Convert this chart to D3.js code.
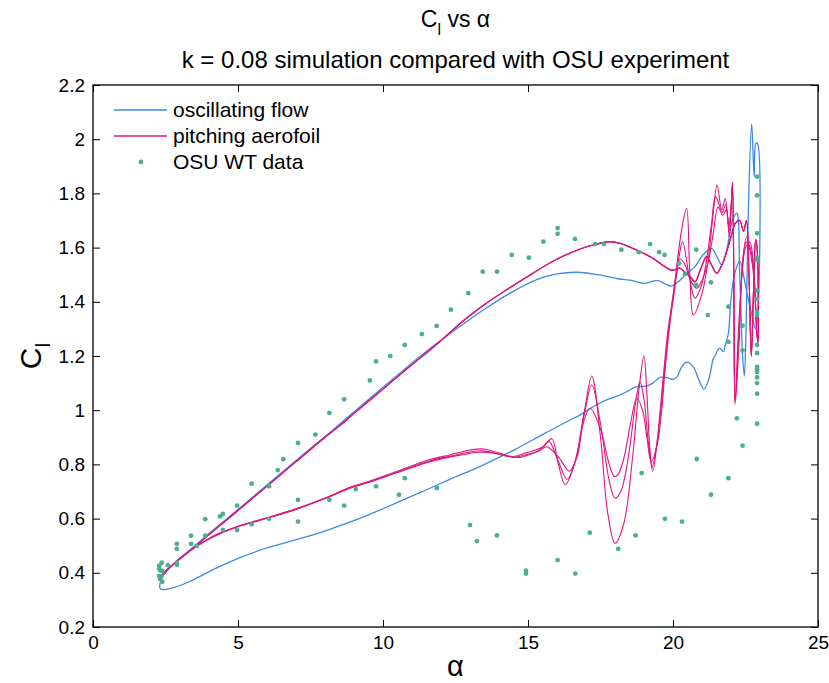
<!DOCTYPE html>
<html><head><meta charset="utf-8">
<script src="https://cdn.jsdelivr.net/npm/d3@7/dist/d3.min.js"></script>
<style>
body{margin:0;background:#fff}
svg{display:block}
text{font-family:"Liberation Sans",Arial,Helvetica,sans-serif;fill:#000}
</style>
</head><body>
<svg id="chart" width="829" height="683"></svg>
<script>
// ---------- data ----------
const xTicks = [0, 5, 10, 15, 20, 25];
const yTicks = [0.2, 0.4, 0.6, 0.8, 1, 1.2, 1.4, 1.6, 1.8, 2, 2.2];
const seriesNames = ["oscillating flow", "pitching aerofoil", "OSU WT data"];

// oscillating flow: [alpha, Cl] traced along the loop
const oscFlow = [
[2.3,0.352],[2.36,0.378],[2.5,0.4],[2.9,0.445],[3.5,0.499],[4,0.545],[5,0.634],[6,0.724],[7,0.814],[8,0.903],[8.52,0.95],
[10,1.085],[11,1.174],[11.62,1.228],[12.77,1.318],[13.46,1.37],[14.38,1.432],[15.3,1.482],[16,1.503],[16.7,1.509],
[17.4,1.5],[18.06,1.486],[18.52,1.48],[19.03,1.468],[19.3,1.476],[19.49,1.478],[19.75,1.465],[19.95,1.458],[20.2,1.475],
[20.36,1.492],[20.6,1.515],[20.76,1.53],[21.05,1.575],[21.33,1.597],[21.5,1.57],[21.68,1.536],[21.85,1.59],[22.05,1.7],
[22.2,1.727],[22.3,1.5],[22.4,1.2],[22.46,1.126],[22.52,1.3],[22.6,1.75],[22.71,2.056],[22.76,1.95],[22.8,1.862],
[22.86,1.985],[22.91,1.985],[22.92,1.35],[22.85,1.3],[22.7,1.36],[22.5,1.46],[22.3,1.55],[22.12,1.5],[21.99,1.4],
[21.91,1.284],[21.8,1.24],[21.74,1.216],[21.62,1.228],[21.56,1.225],[21.45,1.2],[21.39,1.191],[21.25,1.12],
[21.07,1.078],[20.9,1.11],[20.7,1.16],[20.47,1.177],[20.3,1.16],[20.15,1.125],[20.01,1.114],[19.8,1.12],[19.55,1.121],
[19.3,1.1],[19.09,1.089],[18.86,1.087],[18.69,1.085],[18.4,1.068],[18.17,1.056],[17.71,1.038],[17.2,1.01],[16.79,0.982],
[16.45,0.964],[15.5,0.91],[14.5,0.852],[13.34,0.792],[13,0.776],[12.3,0.745],[11.62,0.712],[10.5,0.66],[9.5,0.614],
[8.52,0.574],[7.94,0.552],[7.4,0.534],[6.79,0.516],[6.2,0.498],[5.64,0.479],[5.07,0.456],[4.49,0.429],[3.9,0.399],
[3.34,0.368],[2.77,0.345],[2.45,0.338],[2.32,0.341],[2.3,0.352]
];

// pitching aerofoil: shared upstroke, then three downstroke cycles
const pitchUp = [
[2.37,0.392],[2.6,0.415],[2.9,0.443],[3.5,0.495],[4,0.541],[5,0.63],[6,0.72],[7,0.81],[8,0.9],[8.52,0.944],[9,0.988],
[10,1.078],[11,1.168],[11.62,1.222],[12,1.257],[12.77,1.33],[13.5,1.39],[14.3,1.447],[15.07,1.499],[15.7,1.54],
[16.22,1.569],[16.8,1.595],[17.37,1.613],[17.8,1.622],[18.2,1.615],[18.52,1.601],[19,1.578],[19.32,1.56],[19.55,1.542],
[19.95,1.517],[20.1,1.52],[20.24,1.524],[20.45,1.505],[20.59,1.493],[20.76,1.474],[20.95,1.52],[21.16,1.567],[21.33,1.536],
[21.51,1.505],[21.7,1.54],[21.85,1.585],[22,1.64],[22.15,1.69],[22.3,1.7],[22.43,1.66],[22.53,1.7],[22.62,1.5],[22.7,1.2],
[22.78,1.45],[22.85,1.63],[22.9,1.6],[22.93,1.25]
];
const pitchDown1 = [
[22.93,1.25],[22.88,1.32],[22.78,1.52],[22.65,1.62],[22.5,1.6],[22.38,1.5],[22.26,1.3],[22.14,1.03],[22.1,1.4],
[22.05,1.843],[22,1.75],[21.92,1.68],[21.8,1.78],[21.68,1.74],[21.52,1.831],[21.38,1.72],[21.22,1.56],[21,1.43],
[20.7,1.351],[20.58,1.5],[20.47,1.745],[20.32,1.68],[20.15,1.55],[20,1.42],[19.82,1.29],[19.68,1.14],[19.55,0.99],
[19.43,0.86],[19.3,0.775],[19.2,0.86],[19.1,1.06],[19,1.2],[18.85,1.1],[18.6,0.82],[18.3,0.58],[18,0.509],[17.75,0.62],
[17.5,0.9],[17.2,1.126],[16.95,1],[16.6,0.8],[16.28,0.725],[16.05,0.8],[15.82,0.895],[15.55,0.868],[15.3,0.855],
[14.9,0.842],[14.49,0.829],[14,0.842],[13.45,0.857],[13,0.853],[12.3,0.835],[11.62,0.818],[10.5,0.775],[9.5,0.737],
[8.86,0.716],[8,0.676],[7,0.636],[6,0.603],[5.5,0.588],[5,0.572],[4.5,0.552],[4,0.527],[3.6,0.5],[3.3,0.478],
[2.9,0.445],[2.6,0.416],[2.37,0.392]
];
const pitchDown2 = [
[22.93,1.25],[22.88,1.3],[22.79,1.5],[22.66,1.6],[22.52,1.62],[22.39,1.52],[22.27,1.28],[22.14,1.03],[22.1,1.45],
[22.05,1.835],[22,1.74],[21.93,1.66],[21.82,1.76],[21.7,1.73],[21.47,1.788],[21.32,1.68],[21.15,1.55],[20.98,1.46],
[20.76,1.413],[20.55,1.5],[20.33,1.622],[20.2,1.56],[20.05,1.44],[19.85,1.29],[19.7,1.14],[19.57,0.99],[19.42,0.86],
[19.28,0.79],[19.15,0.88],[19,1.04],[18.86,1.105],[18.7,1.02],[18.45,0.82],[18.2,0.7],[18,0.675],[17.8,0.74],[17.5,0.95],
[17.2,1.093],[16.95,0.99],[16.65,0.82],[16.35,0.745],[16.05,0.81],[15.72,0.885],[15.5,0.862],[15.3,0.848],[14.9,0.835],
[14.49,0.826],[14,0.838],[13.45,0.85],[13,0.846],[12.3,0.83],[11.62,0.813],[10.5,0.772],[9.5,0.735],[8.86,0.714],
[8,0.675],[7,0.635],[6,0.602],[5.5,0.587],[5,0.571],[4.5,0.551],[4,0.526],[3.6,0.5],[3.3,0.478],[2.9,0.445],
[2.6,0.416],[2.37,0.392]
];
const pitchDown3 = [
[22.93,1.25],[22.89,1.28],[22.8,1.48],[22.67,1.58],[22.54,1.64],[22.4,1.55],[22.28,1.25],[22.14,1.02],[22.1,1.5],
[22.05,1.83],[22,1.73],[21.94,1.64],[21.84,1.74],[21.72,1.72],[21.55,1.75],[21.4,1.66],[21.2,1.54],[21,1.48],
[20.82,1.45],[20.6,1.48],[20.4,1.54],[20.24,1.557],[20.1,1.49],[19.95,1.38],[19.85,1.28],[19.72,1.14],[19.6,0.99],
[19.45,0.87],[19.25,0.81],[19.1,0.9],[18.95,1],[18.75,1.044],[18.55,0.96],[18.3,0.82],[18.1,0.762],[17.98,0.755],
[17.8,0.8],[17.5,0.93],[17.14,1.007],[16.9,0.95],[16.7,0.83],[16.42,0.775],[16.1,0.82],[15.65,0.865],[15.4,0.85],
[15.1,0.838],[14.7,0.826],[14.3,0.83],[13.8,0.842],[13.3,0.845],[12.7,0.835],[11.62,0.81],[10.5,0.77],[9.5,0.733],
[8.86,0.712],[8,0.674],[7,0.634],[6,0.601],[5.5,0.586],[5,0.57],[4.5,0.55],[4,0.525],[3.6,0.5],[3.3,0.478],[2.9,0.445],
[2.6,0.416],[2.37,0.392]
];

// OSU wind-tunnel data: [alpha, Cl]
const osuData = [
[2.28,0.426],[2.37,0.437],[2.28,0.415],[2.33,0.408],[2.39,0.407],[2.28,0.388],[2.34,0.385],[2.31,0.377],[2.39,0.367],
[2.58,0.428],[2.89,0.437],[2.89,0.429],[2.89,0.507],[2.89,0.488],[3.38,0.537],[3.38,0.507],[3.58,0.499],[3.87,0.598],
[3.87,0.537],[4.38,0.608],[4.48,0.617],[4.48,0.558],[4.97,0.648],[4.97,0.558],[5.47,0.729],[5.47,0.579],[6.07,0.719],
[6.07,0.599],[6.37,0.779],[6.56,0.819],[7.07,0.879],[7.07,0.669],[7.07,0.589],[7.67,0.91],[8.15,0.99],[8.15,0.669],
[8.66,1.04],[8.66,0.648],[9.06,0.709],[9.55,1.11],[9.76,1.18],[9.76,0.719],[10.25,1.2],[10.55,0.688],[10.75,1.241],
[10.75,0.749],[11.34,1.281],[11.85,1.311],[11.86,0.713],[12.34,1.371],[12.94,1.432],[13,0.576],[13.24,0.517],
[13.44,1.511],[13.93,1.511],[13.93,0.538],[14.44,1.573],[14.93,0.408],[14.93,0.397],[15.03,1.563],[15.53,1.622],
[16.02,1.672],[16.02,1.651],[16.02,0.447],[16.62,1.632],[16.63,0.397],[17.13,0.548],[17.32,1.613],[17.62,1.613],
[18.11,0.488],[18.22,1.592],[18.71,0.538],[18.82,1.583],[18.92,0.768],[19.21,1.613],[19.52,1.583],[19.71,1.573],
[19.72,0.599],[20.21,1.542],[20.31,0.589],[20.41,1.503],[20.8,1.592],[20.8,1.462],[20.82,0.82],[21.2,1.351],[21.31,1.472],
[21.31,0.688],[21.91,1.382],[21.91,1.252],[21.91,0.749],[22.2,0.97],[22.4,1.312],[22.4,1.221],[22.4,0.869],
[22.9,1.862],[22.9,1.793],[22.9,1.653],[22.9,1.563],[22.9,1.553],[22.9,1.442],[22.9,1.411],[22.9,1.362],[22.9,1.351],
[22.9,1.241],[22.9,1.211],[22.9,1.16],[22.9,1.151],[22.9,1.141],[22.9,1.121],[22.9,1.1],[22.9,1.061],[22.9,0.95]
];

// ---------- drawing ----------
const mL = 93, mR = 818, mT = 85, mB = 627;
const colBlue = "#3a8ae8", colMag = "#e0157c", colGreen = "#4daf8d";

const svg = d3.select("#chart");
const x = d3.scaleLinear().domain([0, 25]).range([mL, mR]);
const y = d3.scaleLinear().domain([0.2, 2.2]).range([mB, mT]);

const line = d3.line().x(d => x(d[0])).y(d => y(d[1])).curve(d3.curveCatmullRom.alpha(0.5));

const plot = svg.append("g");
plot.append("path").datum(oscFlow).attr("d", line)
  .attr("fill", "none").attr("stroke", colBlue).attr("stroke-width", 1.3);

[pitchDown1, pitchDown2, pitchDown3].forEach(down => {
  plot.append("path").datum(pitchUp.concat(down.slice(1))).attr("d", line)
    .attr("fill", "none").attr("stroke", colMag).attr("stroke-width", 1.1);
});

plot.selectAll("circle.osu").data(osuData).join("circle")
  .attr("class", "osu").attr("cx", d => x(d[0])).attr("cy", d => y(d[1]))
  .attr("r", 2.4).attr("fill", colGreen);

// axes (MATLAB-style inward ticks, full box)
const tickLen = 7;
const fmt = d => String(d);
const gx = svg.append("g").attr("transform", `translate(0,${mB})`)
  .call(d3.axisBottom(x).tickValues(xTicks).tickSizeInner(-tickLen).tickSizeOuter(0).tickPadding(9).tickFormat(fmt));
const gxt = svg.append("g").attr("transform", `translate(0,${mT})`)
  .call(d3.axisTop(x).tickValues(xTicks).tickSizeInner(-tickLen).tickSizeOuter(0).tickFormat(""));
const gy = svg.append("g").attr("transform", `translate(${mL},0)`)
  .call(d3.axisLeft(y).tickValues(yTicks).tickSizeInner(-tickLen).tickSizeOuter(0).tickPadding(8).tickFormat(fmt));
const gyr = svg.append("g").attr("transform", `translate(${mR},0)`)
  .call(d3.axisRight(y).tickValues(yTicks).tickSizeInner(-tickLen).tickSizeOuter(0).tickFormat(""));
[gx, gxt, gy, gyr].forEach(g => {
  g.select(".domain").remove();
  g.selectAll(".tick line").attr("stroke", "#000").attr("stroke-width", 1);
  g.selectAll(".tick text").attr("font-size", 19).attr("font-family", "Liberation Sans, Arial, sans-serif").attr("fill", "#000");
});
svg.append("rect").attr("x", mL).attr("y", mT).attr("width", mR - mL).attr("height", mB - mT)
  .attr("fill", "none").attr("stroke", "#000").attr("stroke-width", 1.3);

// titles
const cx = (mL + mR) / 2;
const t1 = svg.append("text").attr("x", cx).attr("y", 27).attr("text-anchor", "middle").attr("font-size", 23);
t1.append("tspan").text("C");
t1.append("tspan").attr("font-size", 16).attr("dy", 8).text("l");
t1.append("tspan").attr("dy", -8).text(" vs α");
svg.append("text").attr("x", cx).attr("y", 68).attr("text-anchor", "middle").attr("font-size", 24)
  .text("k = 0.08 simulation compared with OSU experiment");

// axis labels
svg.append("text").attr("x", cx).attr("y", 676).attr("text-anchor", "middle").attr("font-size", 29).text("α");
const yl = svg.append("text").attr("transform", `translate(41,${(mT + mB) / 2}) rotate(-90)`)
  .attr("text-anchor", "middle").attr("font-size", 30);
yl.append("tspan").text("C");
yl.append("tspan").attr("font-size", 21).attr("dy", 9).text("l");

// legend
const legend = svg.append("g");
const ly = [110, 136, 162];
legend.append("line").attr("x1", 114).attr("x2", 167).attr("y1", ly[0]).attr("y2", ly[0]).attr("stroke", colBlue).attr("stroke-width", 1.3);
legend.append("line").attr("x1", 114).attr("x2", 167).attr("y1", ly[1]).attr("y2", ly[1]).attr("stroke", colMag).attr("stroke-width", 1.3);
legend.append("circle").attr("cx", 141).attr("cy", ly[2]).attr("r", 2.4).attr("fill", colGreen);
seriesNames.forEach((n, i) => {
  legend.append("text").attr("x", 173).attr("y", ly[i] + 7).attr("font-size", 21).text(n);
});
</script>
</body></html>
